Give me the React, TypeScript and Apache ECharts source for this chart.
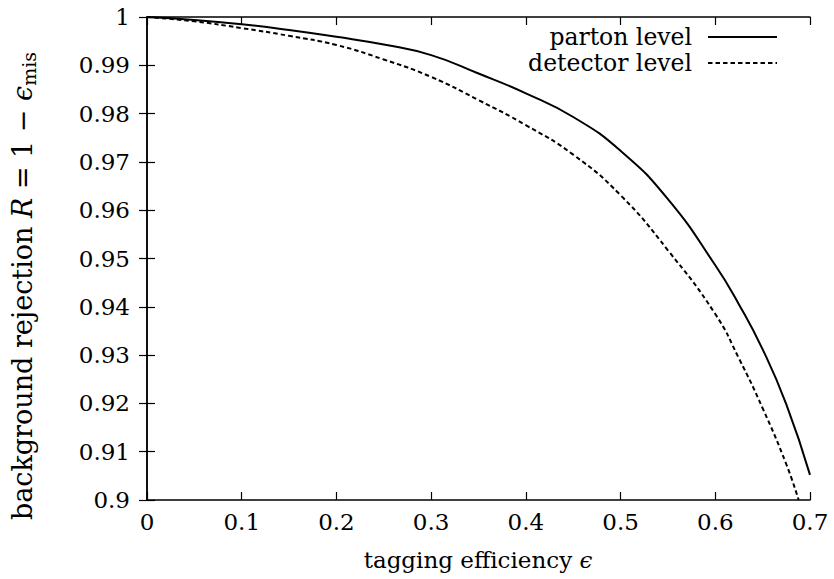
import React, { useEffect, useRef } from "react";
import * as echarts from "echarts";

// tagging efficiency values (x) and background rejection R (y)
const partonEff = [0, 0.05, 0.1, 0.15, 0.2, 0.25, 0.3, 0.35, 0.4, 0.45, 0.5, 0.55, 0.6, 0.625, 0.65, 0.675, 0.7];
const partonR = [1.0, 0.9994, 0.9985, 0.9973, 0.9959, 0.9943, 0.9921, 0.9883, 0.9842, 0.9793, 0.9723, 0.9623, 0.9486, 0.9405, 0.9312, 0.9198, 0.9052];
const detectorEff = [0, 0.05, 0.1, 0.15, 0.2, 0.25, 0.3, 0.35, 0.4, 0.45, 0.5, 0.55, 0.6, 0.625, 0.65, 0.675, 0.688];
const detectorR = [1.0, 0.9991, 0.9977, 0.9961, 0.9942, 0.9912, 0.9876, 0.9828, 0.9776, 0.9715, 0.9631, 0.9517, 0.9385, 0.9293, 0.919, 0.9074, 0.9];

const seriesNames = ["parton level", "detector level"];
const xLabel = "tagging efficiency ";
const yLabelMain = "background rejection ";

const FONT = "DejaVu Serif";

export default function App() {
  const ref = useRef<HTMLDivElement>(null);

  useEffect(() => {
    if (!ref.current) return;
    const chart = echarts.init(ref.current, null, { renderer: "svg" });

    const axisLine = { show: true, lineStyle: { color: "#000", width: 1.5 } };
    const tick = { show: true, inside: true, length: 8, lineStyle: { color: "#000", width: 1.2 } };

    const option: any = {
      animation: false,
      backgroundColor: "#fff",
      textStyle: { fontFamily: FONT },
      grid: { left: 147, right: 24, top: 17, bottom: 79, containLabel: false },
      legend: {
        data: seriesNames,
        orient: "vertical",
        right: 56,
        top: 24,
        align: "right",
        padding: 0,
        itemGap: 0,
        itemWidth: 69,
        itemHeight: 2,
        itemStyle: { opacity: 0 },
        textStyle: {
          fontFamily: FONT,
          fontSize: 23.5,
          color: "#000",
          lineHeight: 26,
          padding: [0, 11, 0, 0],
        },
      },
      xAxis: [
        {
          type: "value",
          min: 0,
          max: 0.7,
          interval: 0.1,
          position: "bottom",
          axisLine,
          axisTick: tick,
          splitLine: { show: false },
          axisLabel: {
            margin: 10,
            fontFamily: FONT,
            fontSize: 23,
            color: "#000",
            formatter: (v: number) => String(parseFloat(v.toFixed(1))),
          },
        },
        {
          type: "value",
          min: 0,
          max: 0.7,
          interval: 0.1,
          position: "top",
          axisLine,
          axisTick: tick,
          splitLine: { show: false },
          axisLabel: { show: false },
        },
      ],
      yAxis: [
        {
          type: "value",
          min: 0.9,
          max: 1,
          interval: 0.01,
          position: "left",
          axisLine,
          axisTick: tick,
          splitLine: { show: false },
          axisLabel: {
            margin: 17,
            fontFamily: FONT,
            fontSize: 23,
            color: "#000",
            formatter: (v: number) => String(parseFloat(v.toFixed(2))),
          },
        },
        {
          type: "value",
          min: 0.9,
          max: 1,
          interval: 0.01,
          position: "right",
          axisLine,
          axisTick: tick,
          splitLine: { show: false },
          axisLabel: { show: false },
        },
      ],
      series: [
        {
          name: seriesNames[0],
          type: "line",
          xAxisIndex: 0,
          yAxisIndex: 0,
          data: partonEff.map((x, i) => [x, partonR[i]]),
          showSymbol: false,
          symbol: "none",
          smooth: 0.5,
          lineStyle: { color: "#000", width: 2, type: "solid" },
          itemStyle: { color: "#000" },
        },
        {
          name: seriesNames[1],
          type: "line",
          xAxisIndex: 0,
          yAxisIndex: 0,
          data: detectorEff.map((x, i) => [x, detectorR[i]]),
          showSymbol: false,
          symbol: "none",
          smooth: 0.5,
          lineStyle: { color: "#000", width: 2, type: [4.5, 3] },
          itemStyle: { color: "#000" },
        },
      ],
      graphic: [
        {
          type: "text",
          x: 478,
          y: 560,
          style: {
            text: "{a|" + xLabel + "}{i|ϵ}",
            align: "center",
            verticalAlign: "middle",
            rich: {
              a: { fontFamily: FONT, fontSize: 23, fill: "#000" },
              i: { fontFamily: FONT, fontSize: 23, fontStyle: "italic", fill: "#000" },
            },
          },
        },
        {
          type: "text",
          x: 22,
          y: 286,
          rotation: Math.PI / 2,
          style: {
            text: "{a|" + yLabelMain + "}{i|R}{a| = 1 − }{i|ϵ}{s|mis}",
            align: "center",
            verticalAlign: "middle",
            rich: {
              a: { fontFamily: FONT, fontSize: 27, fill: "#000" },
              i: { fontFamily: FONT, fontSize: 27, fontStyle: "italic", fill: "#000" },
              s: { fontFamily: FONT, fontSize: 19, fill: "#000", padding: [14, 0, 0, 0] },
            },
          },
        },
      ],
    };

    chart.setOption(option);
    return () => chart.dispose();
  }, []);

  return (
    <div
      ref={ref}
      style={{ position: "absolute", left: 0, top: 0, width: 834, height: 579 }}
    />
  );
}
